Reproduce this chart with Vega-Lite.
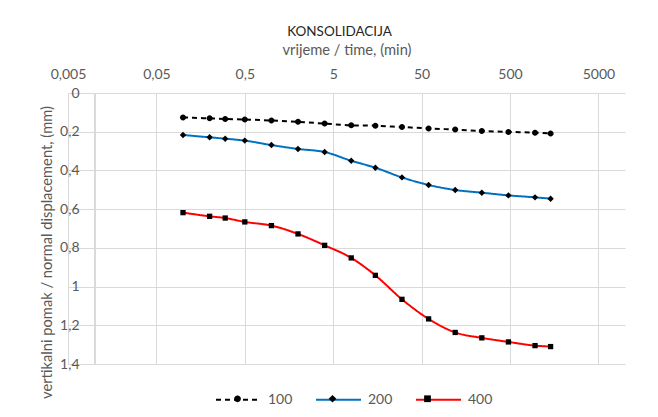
{
  "$schema": "https://vega.github.io/schema/vega-lite/v6.json",
  "autosize": "none",
  "padding": {"left": 68, "top": 93, "right": 33, "bottom": 53},
  "width": 557,
  "height": 271,
  "background": "white",
  "config": {
    "font": "Lato",
    "view": {"stroke": null},
    "axis": {"gridColor": "#d9d9d9", "gridWidth": 1, "domain": false, "ticks": false, "tickSize": 0, "labelFontSize": 14, "labelColor": "#595959", "titleFontSize": 14.7, "titleFontWeight": "normal", "titleColor": "#595959", "labelFlush": false, "labelOverlap": false, "minExtent": 0}
  },
  "title": {"text": "KONSOLIDACIJA", "fontSize": 13.5, "fontWeight": "normal", "color": "#262626", "anchor": "middle", "offset": 4, "dx": -7},
  "data": {"values": [
    {"t": 0.1, "s": "100", "v": 0.126}, {"t": 0.2, "s": "100", "v": 0.131}, {"t": 0.3, "s": "100", "v": 0.134}, {"t": 0.5, "s": "100", "v": 0.137},
    {"t": 1, "s": "100", "v": 0.142}, {"t": 2, "s": "100", "v": 0.149}, {"t": 4, "s": "100", "v": 0.158}, {"t": 8, "s": "100", "v": 0.167},
    {"t": 15, "s": "100", "v": 0.169}, {"t": 30, "s": "100", "v": 0.176}, {"t": 60, "s": "100", "v": 0.183}, {"t": 120, "s": "100", "v": 0.189},
    {"t": 240, "s": "100", "v": 0.196}, {"t": 480, "s": "100", "v": 0.201}, {"t": 960, "s": "100", "v": 0.205}, {"t": 1440, "s": "100", "v": 0.209},
    {"t": 0.1, "s": "200", "v": 0.217}, {"t": 0.2, "s": "200", "v": 0.229}, {"t": 0.3, "s": "200", "v": 0.236}, {"t": 0.5, "s": "200", "v": 0.246},
    {"t": 1, "s": "200", "v": 0.269}, {"t": 2, "s": "200", "v": 0.289}, {"t": 4, "s": "200", "v": 0.305}, {"t": 8, "s": "200", "v": 0.350},
    {"t": 15, "s": "200", "v": 0.386}, {"t": 30, "s": "200", "v": 0.436}, {"t": 60, "s": "200", "v": 0.475}, {"t": 120, "s": "200", "v": 0.501},
    {"t": 240, "s": "200", "v": 0.515}, {"t": 480, "s": "200", "v": 0.529}, {"t": 960, "s": "200", "v": 0.539}, {"t": 1440, "s": "200", "v": 0.546},
    {"t": 0.1, "s": "400", "v": 0.618}, {"t": 0.2, "s": "400", "v": 0.637}, {"t": 0.3, "s": "400", "v": 0.646}, {"t": 0.5, "s": "400", "v": 0.666},
    {"t": 1, "s": "400", "v": 0.685}, {"t": 2, "s": "400", "v": 0.728}, {"t": 4, "s": "400", "v": 0.787}, {"t": 8, "s": "400", "v": 0.852},
    {"t": 15, "s": "400", "v": 0.942}, {"t": 30, "s": "400", "v": 1.066}, {"t": 60, "s": "400", "v": 1.167}, {"t": 120, "s": "400", "v": 1.237},
    {"t": 240, "s": "400", "v": 1.265}, {"t": 480, "s": "400", "v": 1.286}, {"t": 960, "s": "400", "v": 1.305}, {"t": 1440, "s": "400", "v": 1.310}
  ]},
  "encoding": {
    "x": {"field": "t", "type": "quantitative",
      "scale": {"type": "log", "domain": [0.005, 10000], "nice": false},
      "axis": {"orient": "top", "values": [0.005, 0.05, 0.5, 5, 50, 500, 5000], "labelExpr": "replace(format(datum.value, '~g'), '.', ',')", "labelPadding": 12, "title": "vrijeme / time, (min)", "titlePadding": 10}},
    "y": {"field": "v", "type": "quantitative",
      "scale": {"domain": [0, 1.4], "reverse": true, "nice": false, "zero": false},
      "axis": {"values": [0, 0.2, 0.4, 0.6, 0.8, 1, 1.2, 1.4], "labelExpr": "replace(format(datum.value, '~g'), '.', ',')", "labelPadding": -11, "title": "vertikalni pomak / normal displacement, (mm)", "titleY": 159, "titleAngle": -90, "titleAlign": "center", "titleBaseline": "bottom", "titlePadding": 5}}
  },
  "layer": [
    {"mark": {"type": "rule", "color": "#d9d9d9", "strokeWidth": 1}, "encoding": {"x": {"datum": 0.01}, "y": null}},
    {"mark": {"type": "line", "interpolate": "monotone", "strokeWidth": 2},
      "encoding": {
        "color": {"field": "s", "type": "nominal", "scale": {"range": ["#000000", "#0070C0", "#FF0000"]},
          "legend": {"orient": "none", "legendX": 147, "legendY": 283, "direction": "horizontal", "title": null, "symbolType": "M-1,0H1", "symbolSize": 2025, "symbolStrokeWidth": 2, "labelFontSize": 14, "labelColor": "#595959", "labelOffset": 6, "columnPadding": 19, "zindex": 0,
            "encode": {"symbols": {"update": {"strokeDash": {"signal": "datum.value === '100' ? [5, 4] : [1, 0]"}}}}}},
        "strokeDash": {"field": "s", "type": "nominal", "scale": {"range": [[5, 4], [1, 0], [1, 0]]}, "legend": null}
      }},
    {"mark": {"type": "point", "filled": true, "color": "black", "opacity": 1},
      "encoding": {
        "shape": {"field": "s", "type": "nominal", "scale": {"domain": ["100", "200", "400"], "range": ["M0.15,0A0.15,0.15,0,1,1,-0.15,0A0.15,0.15,0,1,1,0.15,0Z", "M0,-0.17L0.17,0L0,0.17L-0.17,0Z", "M-0.15,-0.15H0.15V0.15H-0.15Z"]},
          "legend": {"orient": "none", "legendX": 147, "legendY": 283, "direction": "horizontal", "title": null, "symbolSize": 2025, "symbolStrokeWidth": 0, "symbolFillColor": "black", "labelFontSize": 14, "labelColor": "#595959", "labelOpacity": 0, "labelOffset": 6, "columnPadding": 19, "zindex": 1}},
        "size": {"field": "s", "type": "nominal", "scale": {"range": [1600, 1250, 1940]}, "legend": null}
      }}
  ]
}
